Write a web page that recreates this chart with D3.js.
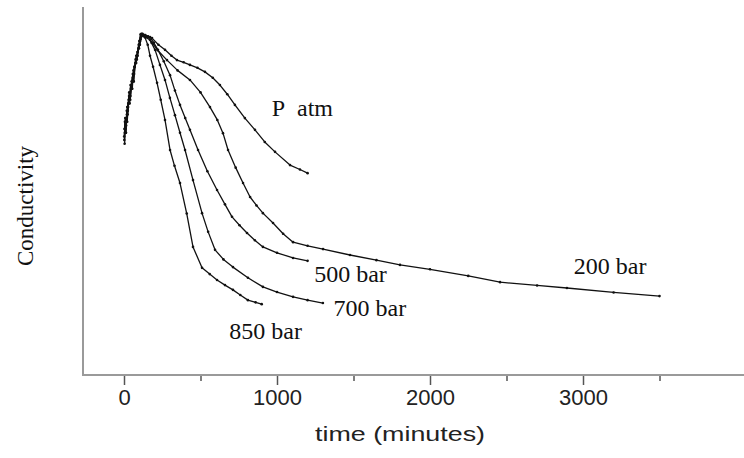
<!DOCTYPE html>
<html>
<head>
<meta charset="utf-8">
<script src="https://cdn.jsdelivr.net/npm/d3@7"></script>
<style>
  body { margin: 0; background: #fff; }
  svg { display: block; }
</style>
</head>
<body>
<svg id="chart" width="744" height="458"></svg>
<script>
// time in minutes, conductivity in arbitrary units (0..100)
var majorTicks = [0, 1000, 2000, 3000];
var minorTicks = [500, 1500, 2500, 3500];

var rise850 = [[2,64],[6,69],[12,66],[18,72],[24,71],[30,75],[38,76],[46,79],[54,78],[62,83],[70,84],[80,87],[90,88],[100,91],[108,92.8],[120,92.5]];
var rise700 = [[3,67],[8,70],[14,68],[21,73],[28,74],[34,77],[42,76],[50,80],[58,82],[66,82],[76,86],[86,87],[96,90],[106,91],[114,93],[126,92.6]];
var rise500 = [[4,63],[9,67],[15,70],[21,69],[27,73],[35,75],[43,79],[51,78],[59,82],[68,84],[78,85],[88,88],[98,89],[108,91.5],[116,92.8],[130,92.6]];
var rise200 = [[1,65],[7,67],[13,66],[19,71],[25,72],[33,76],[41,75],[49,79],[57,81],[64,80],[74,85],[84,86],[94,89],[104,90],[112,92.4],[128,92.4]];
var riseAtm = [[5,66],[10,69],[16,70],[23,72],[30,74],[37,74],[45,78],[53,80],[61,80],[69,84],[79,85],[89,87],[100,90],[110,92],[120,93],[140,92.6]];

var bar850 = rise850.concat([[137,92],[155,90],[170,87],[190,84],[216,79.6],[240,75],[268,69.5],[301,61.3],[330,57],[366,52.3],[410,44],[451,34.9],[510,29.2],[560,27.5],[608,25.9],[660,24.5],[712,23.2],[760,21.8],[810,20.4],[860,19.8],[900,19.3]]);
var bar700 = rise700.concat([[157,92.3],[180,90.5],[203,88.6],[235,84.5],[268,80.4],[300,75.5],[333,70.8],[366,66],[399,61.3],[451,53.1],[510,44.1],[550,39],[595,34.1],[650,31.5],[712,29.4],[810,26.5],[908,24],[1000,22.6],[1105,21.3],[1200,20.4],[1300,19.6]]);
var bar500 = rise500.concat([[170,92.1],[195,90.5],[222,88.6],[260,85.5],[301,81.7],[333,77.5],[366,73.6],[400,70],[431,66.8],[484,61.3],[545,55.5],[608,50.4],[660,46.5],[706,43.1],[755,40.8],[804,38.7],[855,36.7],[908,34.9],[1000,33.3],[1105,31.9],[1200,31.1]]);
var bar200 = rise200.concat([[170,91.3],[220,88.5],[281,85.8],[350,83],[431,80.4],[500,77],[562,73],[610,69.5],[647,65.9],[680,61.3],[730,56.5],[778,52.3],[824,48.5],[866,46.2],[908,44.1],[974,41.4],[1040,38.5],[1105,36.2],[1200,35.2],[1301,34.3],[1477,32.7],[1650,31.3],[1804,30],[2000,28.8],[2250,27],[2458,25.3],[2700,24.4],[2895,23.7],[3200,22.5],[3500,21.5]]);
var pAtm = riseAtm.concat([[152,92],[183,91.8],[225,90],[268,88.6],[310,87],[346,85.8],[390,85.2],[431,84.5],[480,83.7],[529,82.6],[580,81],[627,79],[675,76.5],[725,73.6],[790,70],[856,66.8],[920,63.5],[987,60.8],[1085,57.2],[1150,56],[1200,55]]);

var seriesList = [bar850, bar700, bar500, bar200, pAtm];
var seriesNames = ["850 bar", "700 bar", "500 bar", "200 bar", "P\u2002atm"];
// label anchor (time, conductivity) for each series name
var labelAt = [[688, 9.8], [1370, 16], [1243, 25.3], [2940, 27.5], [965, 70.6]];

var svg = d3.select("#chart");
var width = +svg.attr("width");

var x = d3.scaleLinear().domain([0, 3000]).range([124, 583]);
var y = d3.scaleLinear().domain([0, 100]).range([375, 8]);
var left = 83, bottom = y(0);

// frame: left and bottom lines only
svg.append("line")
	.attr("x1", left).attr("x2", left)
	.attr("y1", 7).attr("y2", bottom)
	.attr("stroke", "#9a9a9a").attr("stroke-width", 2);
svg.append("line")
	.attr("x1", left - 1).attr("x2", width)
	.attr("y1", bottom).attr("y2", bottom)
	.attr("stroke", "#9a9a9a").attr("stroke-width", 2);

var axis = svg.append("g")
	.attr("transform", "translate(0," + (bottom + 1) + ")")
	.call(d3.axisBottom(x).tickValues(majorTicks).tickSize(9).tickPadding(4).tickFormat(d3.format("d")));
axis.select(".domain").remove();
axis.selectAll(".tick line").attr("stroke", "#555").attr("stroke-width", 1.5);
axis.selectAll(".tick text")
	.attr("fill", "#222")
	.style("font-family", "'Liberation Sans', Arial, sans-serif")
	.style("font-size", "22px");

var minor = svg.append("g")
	.attr("transform", "translate(0," + (bottom + 1) + ")")
	.call(d3.axisBottom(x).tickValues(minorTicks).tickSize(5).tickFormat(""));
minor.select(".domain").remove();
minor.selectAll(".tick line").attr("stroke", "#555").attr("stroke-width", 1.5);

svg.append("text")
	.attr("x", 400).attr("y", 441)
	.attr("text-anchor", "middle")
	.attr("textLength", 170)
	.attr("lengthAdjust", "spacingAndGlyphs")
	.style("font-family", "'Liberation Sans', Arial, sans-serif")
	.style("font-size", "21px")
	.attr("fill", "#222")
	.text("time (minutes)");

svg.append("text")
	.attr("transform", "translate(33,206) rotate(-90)")
	.attr("text-anchor", "middle")
	.style("font-family", "'Liberation Serif', 'Times New Roman', serif")
	.style("font-size", "23px")
	.attr("fill", "#111")
	.text("Conductivity");

var line = d3.line()
	.x(function(d) { return x(d[0]); })
	.y(function(d) { return y(d[1]); });

var curves = svg.append("g");
seriesList.forEach(function(s) {
	curves.append("path")
		.datum(s)
		.attr("d", line)
		.attr("fill", "none")
		.attr("stroke", "#111")
		.attr("stroke-width", 1.3)
		.attr("stroke-linejoin", "round");
	curves.selectAll(null)
		.data(s)
		.enter().append("circle")
		.attr("cx", function(d) { return x(d[0]); })
		.attr("cy", function(d) { return y(d[1]); })
		.attr("r", 1.3)
		.attr("fill", "#111");
});

svg.append("g").selectAll("text")
	.data(seriesNames)
	.enter().append("text")
	.attr("x", function(d, i) { return x(labelAt[i][0]); })
	.attr("y", function(d, i) { return y(labelAt[i][1]); })
	.style("font-family", "'Liberation Serif', 'Times New Roman', serif")
	.style("font-size", "24px")
	.attr("fill", "#111")
	.text(function(d) { return d; });
</script>
</body>
</html>
